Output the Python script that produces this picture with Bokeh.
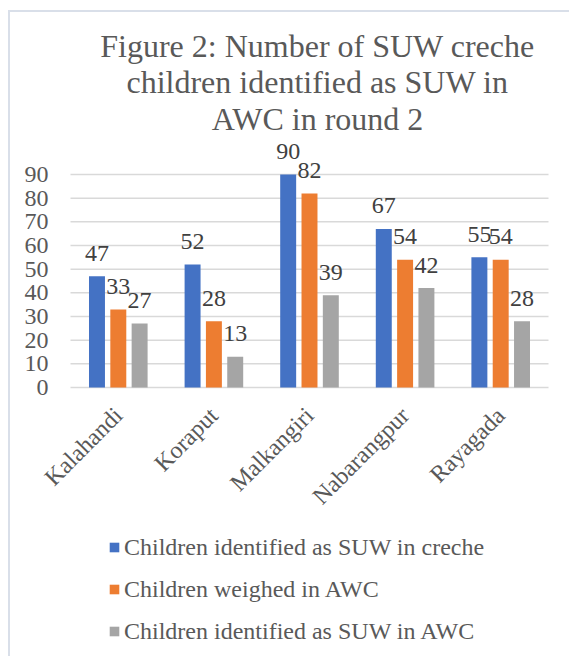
from bokeh.plotting import figure
from bokeh.models import (Range1d, ColumnDataSource, Legend, LegendItem, LabelSet, Label)
from bokeh.core.properties import value
from bokeh.transform import dodge
from bokeh.embed import file_html
from bokeh.resources import INLINE
import math

districts = ["Kalahandi", "Koraput", "Malkangiri", "Nabarangpur", "Rayagada"]
series_names = ["Children identified as SUW in creche",
                "Children weighed in AWC",
                "Children identified as SUW in AWC"]
suw_creche = [47, 52, 90, 67, 55]
weighed_awc = [33, 28, 82, 54, 54]
suw_awc = [27, 13, 39, 42, 28]
y_ticks = [0, 10, 20, 30, 40, 50, 60, 70, 80, 90]
title_lines = ["Figure 2: Number of SUW creche",
               "children identified as SUW in",
               "AWC in round 2"]

colors = ["#4472C4", "#ED7D31", "#A5A5A5"]
FONT = "Liberation Serif"
FS = "24px"

# ---- layout constants (pixels) ----
W, H = 561, 646            # canvas size
LEFT_PAD_PX = 60           # canvas left -> start of category area
CAT_PX = 95.6              # width of one category
ZERO_PX = 375              # canvas top -> zero line
UNIT_PX = 213 / 90         # pixels per value unit

n = len(districts)
x_start = -0.5 - LEFT_PAD_PX / CAT_PX
x_end = x_start + W / CAT_PX
y_end = ZERO_PX / UNIT_PX
y_start = y_end - H / UNIT_PX

idx = list(range(n))
src = ColumnDataSource(data=dict(x=idx, name=districts, a=suw_creche, b=weighed_awc, c=suw_awc,
                                 la=[str(v) for v in suw_creche],
                                 lb=[str(v) for v in weighed_awc],
                                 lc=[str(v) for v in suw_awc],
                                 zero=[0] * n))
tick_src = ColumnDataSource(data=dict(y=y_ticks, t=[str(v) for v in y_ticks],
                                      x0=[-0.5] * len(y_ticks), x1=[n - 0.5] * len(y_ticks)))

p = figure(x_range=Range1d(x_start, x_end), y_range=Range1d(y_start, y_end),
           width=W, height=H, output_backend="svg", toolbar_location=None,
           min_border_left=0, min_border_right=0, min_border_top=0, min_border_bottom=0)
p.margin = (10, 0, 0, 8)
p.styles = {"border-left": "2px solid #d9dfe9", "border-top": "2px solid #d9dfe9"}
p.outline_line_color = None
p.background_fill_color = "white"
p.border_fill_color = "white"
p.xaxis.visible = False
p.yaxis.visible = False
p.xgrid.grid_line_color = None
p.ygrid.grid_line_color = None

# horizontal gridlines at the value ticks
p.segment(x0="x0", x1="x1", y0="y", y1="y", source=tick_src,
          line_color="#d9d9d9", line_width=1.5)
# value tick labels
p.add_layout(LabelSet(x="x0", y="y", text="t", source=tick_src, x_offset=-22,
                      text_align="right", text_baseline="middle",
                      text_font=value(FONT), text_font_size=value(FS), text_color="#595959"))

offsets = [-0.223, 0.0, 0.223]
cols = ["a", "b", "c"]
lcols = ["la", "lb", "lc"]
renderers = []
for off, col, lc, color in zip(offsets, cols, lcols, colors):
    r = p.vbar(x=dodge("x", off), top=col, width=0.167,
               source=src, fill_color=color, line_color=None)
    renderers.append(r)
    p.add_layout(LabelSet(x=dodge("x", off), y=col, text=lc, source=src,
                          text_align="center", text_baseline="middle", y_offset=23,
                          text_font=value(FONT), text_font_size=value(FS), text_color="#404040"))

# category labels under the zero line, rotated 45 degrees
p.add_layout(LabelSet(x="x", y="zero", text="name", source=src, angle=math.pi / 4,
                      text_align="right", text_baseline="middle", x_offset=0, y_offset=-24,
                      text_font=value(FONT), text_font_size=value(FS), text_color="#595959"))

# title, three centred lines
title_cx = x_start + (317 - 10) / CAT_PX
for i, line in enumerate(title_lines):
    base_px = 33 + 36.5 * i           # baseline, from canvas top
    p.add_layout(Label(x=title_cx, y=(ZERO_PX - base_px) / UNIT_PX, text=line,
                       text_align="center", text_baseline="alphabetic",
                       text_font=FONT, text_font_size="32px", text_color="#595959"))

legend = Legend(items=[LegendItem(label=s, renderers=[r]) for s, r in zip(series_names, renderers)],
                orientation="vertical", location=(98, 13),
                label_text_font=FONT, label_text_font_size=FS, label_text_color="#595959",
                glyph_width=12, glyph_height=12, label_height=28, spacing=14,
                label_standoff=4, border_line_color=None, background_fill_alpha=0,
                padding=0, margin=0)
p.add_layout(legend, "center")

open("out.html", "w").write(file_html(p, INLINE))
